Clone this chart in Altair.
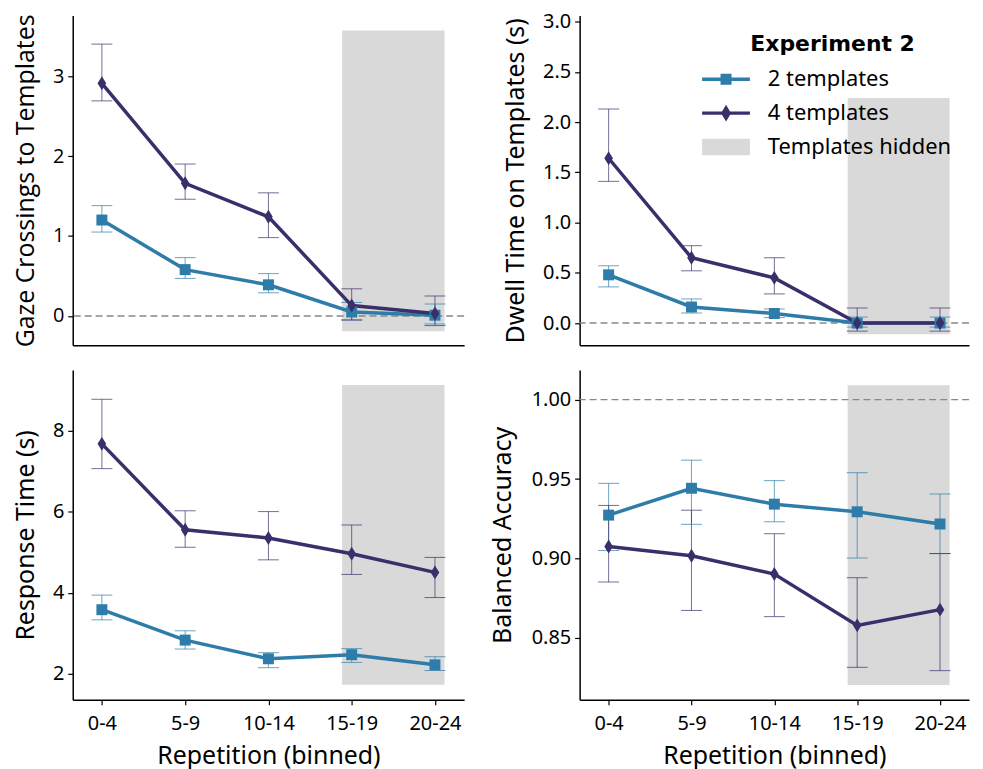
import altair as alt
import pandas as pd

bins = ["0-4", "5-9", "10-14", "15-19", "20-24"]
bin_index = [0, 1, 2, 3, 4]
conditions = ["2 templates", "4 templates"]
cond_colors = ["#2e7ca9", "#3a2e6b"]

# Panel 1: Gaze crossings to templates
gaze_2_mean = [1.20, 0.58, 0.39, 0.05, 0.01]
gaze_2_lo = [1.05, 0.47, 0.29, -0.05, -0.10]
gaze_2_hi = [1.38, 0.73, 0.53, 0.17, 0.15]
gaze_4_mean = [2.91, 1.66, 1.24, 0.13, 0.03]
gaze_4_lo = [2.69, 1.46, 0.98, -0.05, -0.12]
gaze_4_hi = [3.40, 1.90, 1.54, 0.34, 0.25]

# Panel 2: Dwell time on templates (s)
dwell_2_mean = [0.48, 0.16, 0.095, 0.0, 0.0]
dwell_2_lo = [0.36, 0.10, 0.055, -0.04, -0.04]
dwell_2_hi = [0.57, 0.24, 0.14, 0.06, 0.06]
dwell_4_mean = [1.64, 0.65, 0.45, 0.0, 0.0]
dwell_4_lo = [1.41, 0.52, 0.29, -0.08, -0.08]
dwell_4_hi = [2.13, 0.77, 0.65, 0.15, 0.15]

# Panel 3: Response time (s)
rt_2_mean = [3.58, 2.83, 2.37, 2.47, 2.22]
rt_2_lo = [3.33, 2.61, 2.15, 2.28, 2.08]
rt_2_hi = [3.94, 3.06, 2.52, 2.62, 2.42]
rt_4_mean = [7.67, 5.55, 5.35, 4.96, 4.50]
rt_4_lo = [7.06, 5.12, 4.81, 4.45, 3.88]
rt_4_hi = [8.77, 6.02, 6.00, 5.67, 4.87]

# Panel 4: Balanced accuracy
acc_2_mean = [0.9273, 0.9442, 0.9342, 0.9294, 0.9217]
acc_2_lo = [0.9050, 0.9215, 0.9231, 0.9003, 0.9031]
acc_2_hi = [0.9473, 0.9619, 0.9490, 0.9540, 0.9406]
acc_4_mean = [0.9075, 0.9017, 0.8902, 0.8579, 0.8678]
acc_4_lo = [0.8852, 0.8673, 0.8634, 0.8315, 0.8294]
acc_4_hi = [0.9334, 0.9304, 0.9156, 0.8879, 0.9031]

# "Templates hidden" span (bins 15-19 and 20-24)
shade_x = [2.885, 4.115]
gaze_shade_y = [-0.19, 3.57]
dwell_shade_y = [-0.11, 2.24]
rt_shade_y = [1.73, 9.12]
acc_shade_y = [0.8204, 1.009]

legend_items = ["2 templates", "4 templates", "Templates hidden"]
legend_colors = ["#2e7ca9", "#3a2e6b", "#d9d9d9"]
legend_shapes = [
    "M-2,-0.14L2,-0.14L2,0.14L-2,0.14Z M-0.46,-0.46L0.46,-0.46L0.46,0.46L-0.46,0.46Z",
    "M-2,-0.14L2,-0.14L2,0.14L-2,0.14Z M0,-0.7L0.42,0L0,0.7L-0.42,0Z",
    "M-2,-0.7L2,-0.7L2,0.7L-2,0.7Z",
]

XDOM = [-0.35, 4.35]
label_expr = "[" + ", ".join("'%s'" % b for b in bins) + "][datum.value]"
DIAMOND = "M0,-1L0.62,0L0,1L-0.62,0Z"


def build_df(m2, lo2, hi2, m4, lo4, hi4):
    rows = []
    for cond, m, lo, hi in [(conditions[0], m2, lo2, hi2), (conditions[1], m4, lo4, hi4)]:
        for i, b in enumerate(bins):
            rows.append({"idx": bin_index[i], "bin": b, "cond": cond,
                         "mean": m[i], "lo": lo[i], "hi": hi[i]})
    return pd.DataFrame(rows)


def panel(df, ytitle, ydom, yticks, yfmt, shade_y, ref, font, extent, tpad,
          show_x, width, height, extra=None):
    yaxis = alt.Axis(title=ytitle, values=yticks, format=yfmt, labelFont=font,
                     titleFont=font, labelFontSize=20, titleFontSize=25,
                     minExtent=extent, maxExtent=extent, titlePadding=tpad,
                     grid=False, domainColor="black", domainWidth=1.5,
                     tickColor="black", tickWidth=1.2, tickSize=5, labelPadding=4,
                     labelColor="black", titleColor="black", titleFontWeight="normal")
    if show_x:
        xaxis = alt.Axis(title="Repetition (binned)", values=bin_index, labelExpr=label_expr,
                         labelFont=font, titleFont=font, labelFontSize=20, titleFontSize=25,
                         grid=False, domainColor="black", domainWidth=1.5,
                         tickColor="black", tickWidth=1.2, tickSize=5, labelPadding=9,
                         titlePadding=10, labelColor="black", titleColor="black",
                         titleFontWeight="normal")
    else:
        xaxis = alt.Axis(title=None, labels=False, ticks=False, grid=False,
                         domainColor="black", domainWidth=1.5, values=bin_index)
    xs = alt.Scale(domain=XDOM, nice=False, zero=False)
    ys = alt.Scale(domain=ydom, nice=False, zero=False)

    def X(f):
        return alt.X(f, type="quantitative", scale=xs, axis=xaxis)

    def Y(f):
        return alt.Y(f, type="quantitative", scale=ys, axis=yaxis)

    color = alt.Color("cond:N", scale=alt.Scale(domain=conditions, range=cond_colors), legend=None)

    shade_df = pd.DataFrame({"x0": [shade_x[0]], "x1": [shade_x[1]],
                             "y0": [shade_y[0]], "y1": [shade_y[1]]})
    layers = [alt.Chart(shade_df).mark_rect(color="#d9d9d9").encode(
        x=X("x0"), x2="x1", y=Y("y0"), y2="y1")]
    if ref is not None:
        ref_df = pd.DataFrame({"ref": [ref]})
        layers.append(alt.Chart(ref_df).mark_rule(
            color="#888888", strokeDash=[7, 4], strokeWidth=1.5).encode(y=Y("ref")))
    base = alt.Chart(df)
    layers.append(base.mark_rule(strokeWidth=1, opacity=0.7).encode(
        x=X("idx"), y=Y("lo"), y2="hi", color=color))
    layers.append(base.mark_tick(orient="horizontal", size=21, thickness=1, opacity=0.7).encode(
        x=X("idx"), y=Y("lo"), color=color))
    layers.append(base.mark_tick(orient="horizontal", size=21, thickness=1, opacity=0.7).encode(
        x=X("idx"), y=Y("hi"), color=color))
    layers.append(base.mark_line(strokeWidth=3.5).encode(
        x=X("idx"), y=Y("mean"), color=color))
    layers.append(base.transform_filter(alt.datum.cond == conditions[0]).mark_point(
        filled=True, shape="square", size=121, opacity=1).encode(
        x=X("idx"), y=Y("mean"), color=color))
    layers.append(base.transform_filter(alt.datum.cond == conditions[1]).mark_point(
        filled=True, shape=DIAMOND, size=196, opacity=1).encode(
        x=X("idx"), y=Y("mean"), color=color))
    if extra is not None:
        layers.append(extra)
    return alt.layer(*layers).properties(width=width, height=height)


legend_props = dict(
    title="Experiment 2", orient="none", legendX=644, legendY=19,
    titleFont="DejaVu Sans", titleFontSize=22, titleFontWeight="bold",
    titleColor="black", titleAnchor="middle", titlePadding=11,
    labelFont="Noto Sans", labelFontSize=22, labelColor="black", labelOffset=30,
    symbolSize=576, symbolOpacity=1, symbolStrokeWidth=0, rowPadding=11,
    padding=0, labelLimit=0,
)
legend_df = pd.DataFrame({"item": legend_items})
legend_layer = alt.Chart(legend_df).mark_point(filled=True, opacity=0).encode(
    fill=alt.Fill("item:N", scale=alt.Scale(domain=legend_items, range=legend_colors),
                  legend=alt.Legend(**legend_props)),
    shape=alt.Shape("item:N", scale=alt.Scale(domain=legend_items, range=legend_shapes),
                    legend=alt.Legend(**legend_props)),
)

p1 = panel(build_df(gaze_2_mean, gaze_2_lo, gaze_2_hi, gaze_4_mean, gaze_4_lo, gaze_4_hi),
           "Gaze Crossings to Templates", [-0.365, 3.757], [0, 1, 2, 3], "d",
           gaze_shade_y, 0, "Open Sans", 30, 4, False, 393, 331)
p2 = panel(build_df(dwell_2_mean, dwell_2_lo, dwell_2_hi, dwell_4_mean, dwell_4_lo, dwell_4_hi),
           "Dwell Time on Templates (s)", [-0.22, 3.06], [0, 0.5, 1.0, 1.5, 2.0, 2.5, 3.0], ".1f",
           dwell_shade_y, 0, "Noto Sans", 45, 6, False, 391, 331, extra=legend_layer)
p3 = panel(build_df(rt_2_mean, rt_2_lo, rt_2_hi, rt_4_mean, rt_4_lo, rt_4_hi),
           "Response Time (s)", [1.36, 9.49], [2, 4, 6, 8], "d",
           rt_shade_y, None, "Noto Sans", 30, 4, True, 393, 331)
p4 = panel(build_df(acc_2_mean, acc_2_lo, acc_2_hi, acc_4_mean, acc_4_lo, acc_4_hi),
           "Balanced Accuracy", [0.8111, 1.0186], [0.85, 0.90, 0.95, 1.00], ".2f",
           acc_shade_y, 1.0, "Noto Sans", 57, 7, True, 391, 331)

chart = alt.concat(p1, p2, p3, p4, columns=2, bounds="flush",
                   spacing={"row": 25, "column": 116}).configure_view(
    stroke=None).properties(padding={"left": 6, "top": 2, "right": 5, "bottom": 0})

chart.save("out.html", embed_options={"renderer": "svg", "actions": False})
